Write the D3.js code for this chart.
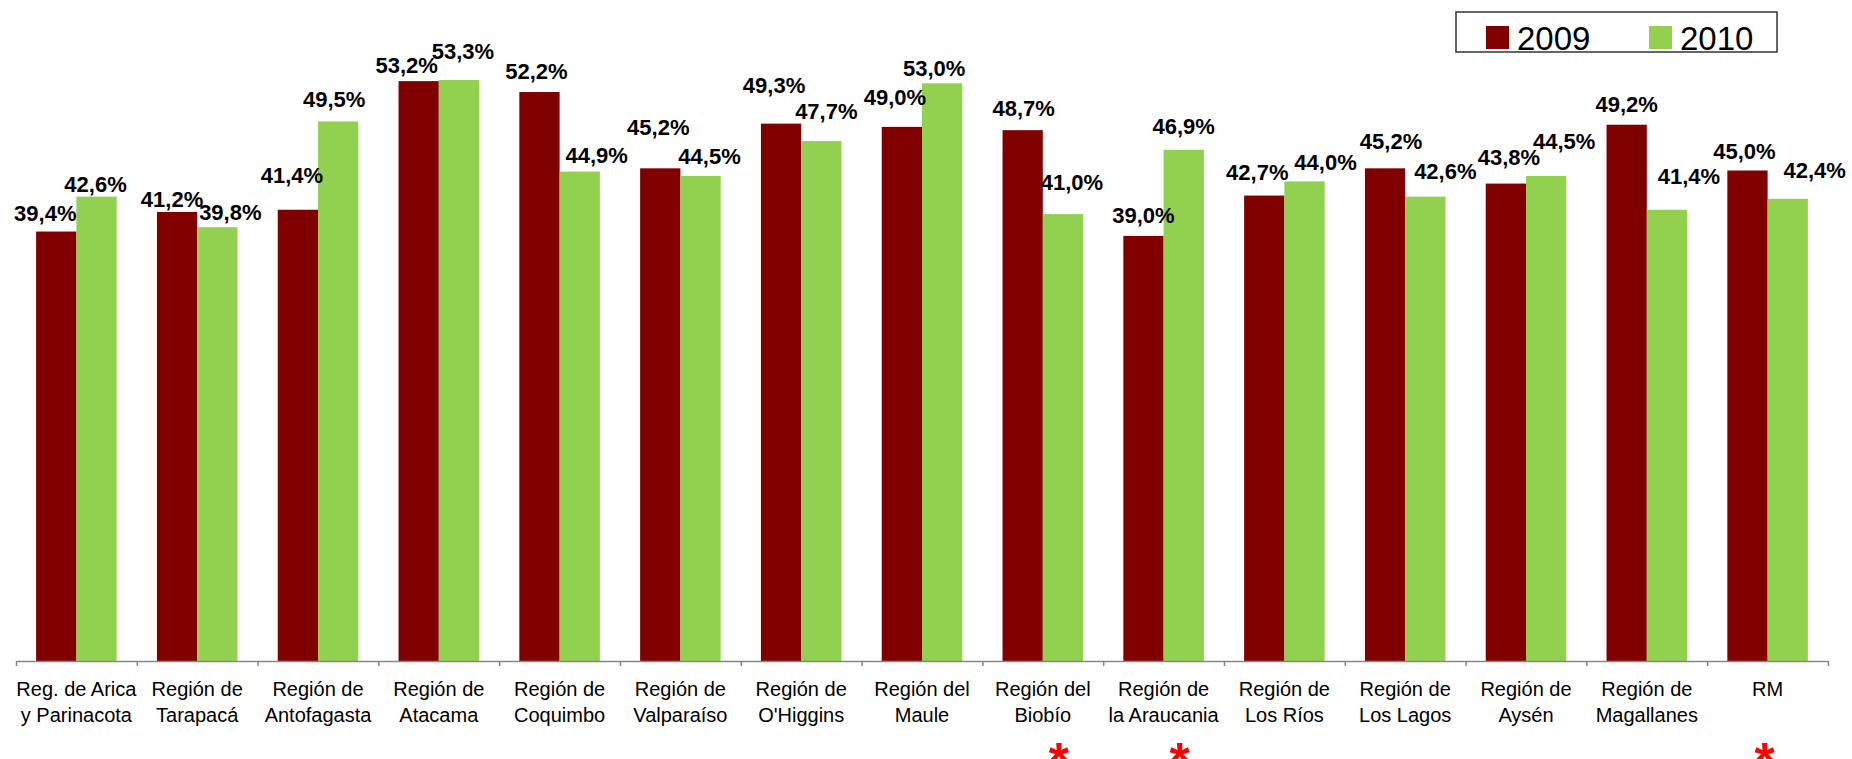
<!DOCTYPE html>
<html><head><meta charset="utf-8">
<script src="https://cdn.jsdelivr.net/npm/d3@7"></script>
<style>html,body{margin:0;padding:0;background:#fff;}svg{display:block;overflow:visible}</style>
</head><body>
<svg id="c" width="1852" height="759"></svg>
<script>
const categories = [
  ["Reg. de Arica","y Parinacota"],["Región de","Tarapacá"],["Región de","Antofagasta"],
  ["Región de","Atacama"],["Región de","Coquimbo"],["Región de","Valparaíso"],
  ["Región de","O'Higgins"],["Región del","Maule"],["Región del","Biobío"],
  ["Región de","la Araucania"],["Región de","Los Ríos"],["Región de","Los Lagos"],
  ["Región de","Aysén"],["Región de","Magallanes"],["RM"]
];
const seriesNames = ["2009","2010"];
const values2009 = [39.4,41.2,41.4,53.2,52.2,45.2,49.3,49.0,48.7,39.0,42.7,45.2,43.8,49.2,45.0];
const values2010 = [42.6,39.8,49.5,53.3,44.9,44.5,47.7,53.0,41.0,46.9,44.0,42.6,44.5,41.4,42.4];
const marked = [8, 9, 14];
const colors = {"2009":"#800000","2010":"#92D050"};

// manual data-label nudges (as placed in the original chart): [dx from bar centre, gap above bar top]
const labelNudge2009 = [[-11,11],[-5,5],[-6,27],[-12,8],[-3,13],[-2,33],[-7,31],[-7,22],[1,14],[0,13],[-7,16],[6,19],[3,19],[0,13],[-3,12]];
const labelNudge2010 = [[-1,5],[13,7],[-4,14],[4,21],[17,9],[9,12],[5,22],[-8,7],[9,24],[0,16],[21,11],[20,18],[18,27],[22,26],[27,21]];

const svg = d3.select("#c");
const keys = categories.map(c => c.join(" "));
const x = d3.scaleBand().domain(keys).range([16,1828]).paddingInner(0).paddingOuter(0);
const xi = d3.scaleBand().domain(seriesNames).range([0,x.bandwidth()]).paddingInner(0).paddingOuter(0.5);
const y = d3.scaleLinear().domain([0,60]).range([661,7]);
const fmt = v => d3.format(".1f")(v).replace(".", ",") + "%";

const data = keys.map((k,i)=>({key:k, vals:[
  {s:"2009",v:values2009[i],n:labelNudge2009[i]},
  {s:"2010",v:values2010[i],n:labelNudge2010[i]}]}));

const grp = svg.append("g").selectAll("g.cat").data(data).join("g")
  .attr("transform", d=>`translate(${x(d.key)},0)`);
grp.selectAll("rect").data(d=>d.vals).join("rect")
  .attr("x", d=>xi(d.s)).attr("width", xi.bandwidth())
  .attr("y", d=>y(d.v)).attr("height", d=>y(0)-y(d.v))
  .attr("fill", d=>colors[d.s]);

grp.selectAll("text").data(d=>d.vals).join("text")
  .attr("x", d=>xi(d.s)+xi.bandwidth()/2+d.n[0])
  .attr("y", d=>y(d.v)-d.n[1])
  .attr("text-anchor","middle")
  .attr("font-family","Liberation Sans, Arial, sans-serif").attr("font-weight","bold")
  .attr("font-size",22).attr("fill","#000").text(d=>fmt(d.v));

// axis with ticks at category boundaries
const xb = d3.scaleLinear().domain([0,keys.length]).range(x.range());
const ax = svg.append("g").attr("transform","translate(0,661)")
  .call(d3.axisBottom(xb).tickValues(d3.range(keys.length+1)).tickFormat("").tickSize(5).tickSizeOuter(0));
ax.select(".domain").attr("stroke","#868686").attr("stroke-width",1.5);
ax.selectAll(".tick line").attr("stroke","#868686").attr("stroke-width",1.5);

// category labels
const lab = svg.append("g").selectAll("text").data(categories).join("text")
  .attr("x",(d,i)=>x(keys[i])+x.bandwidth()/2).attr("y",696)
  .attr("text-anchor","middle").attr("font-family","Liberation Sans, Arial, sans-serif")
  .attr("font-size",20).attr("fill","#000");
lab.selectAll("tspan").data(d=>d).join("tspan")
  .attr("x", function(){return this.parentNode.getAttribute("x");})
  .attr("dy",(d,i)=>i===0?0:25.5).text(d=>d);

// red asterisks
const starDx = {8:16, 9:16, 14:-3};
svg.append("g").selectAll("text").data(marked).join("text")
  .attr("x", i=>x(keys[i])+x.bandwidth()/2+(starDx[i]||0)).attr("y",779)
  .attr("text-anchor","middle").attr("font-family","Liberation Sans, Arial, sans-serif")
  .attr("font-weight","bold").attr("font-size",52).attr("fill","#FF0000").text("*");

// legend
const lg = svg.append("g");
lg.append("rect").attr("x",1456).attr("y",12).attr("width",321).attr("height",40)
  .attr("fill","#fff").attr("stroke","#333").attr("stroke-width",1.5);
const items = lg.selectAll("g").data(seriesNames).join("g")
  .attr("transform",(d,i)=>`translate(${1486+i*163},0)`);
items.append("rect").attr("x",0).attr("y",26).attr("width",23).attr("height",23).attr("fill",d=>colors[d]);
items.append("text").attr("x",31).attr("y",50).attr("font-family","Liberation Sans, Arial, sans-serif")
  .attr("font-size",33).attr("fill","#000").text(d=>d);
</script>
</body></html>
